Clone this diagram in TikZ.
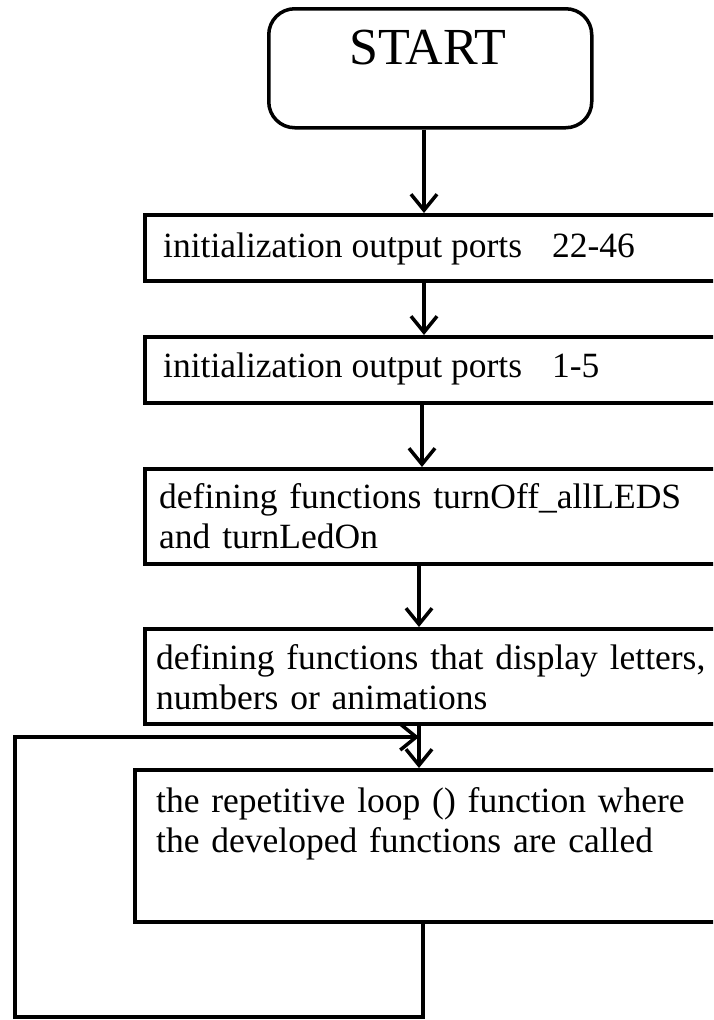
\documentclass[tikz,border=0pt]{standalone}
\usepackage{fontspec}
\setmainfont{Liberation Serif}
\usetikzlibrary{arrows.meta}
\begin{document}
\begin{tikzpicture}[x=1pt,y=-1pt,
  box/.style={draw, line width=3.5pt, rectangle, inner sep=0pt, anchor=north west, minimum width=640pt},
  lbl/.style={anchor=base west, inner sep=0pt, font=\fontsize{35.5}{40}\selectfont, align=left},
  arr/.style={line width=3.5pt, -{Straight Barb[length=16pt,width=26pt]}},
  loopline/.style={line width=3.5pt, line join=miter},
]
\useasboundingbox (0,0) rectangle (713,1020);
\clip (0,0) rectangle (713,1020);
% start
\node[draw, line width=3.5pt, rounded corners=26pt, inner sep=0pt, minimum width=323pt, minimum height=119pt, anchor=north west] (start) at (267,7) {};
\node[anchor=base, inner sep=0pt, font=\fontsize{52}{56}\selectfont] (starttxt) at (428,64) {START};
% boxes
\node[box, minimum height=66pt] (b1) at (143,213) {};
\node[box, minimum height=66pt] (b2) at (143,335) {};
\node[box, minimum height=95pt] (b3) at (143,467) {};
\node[box, minimum height=95pt] (b4) at (143,627) {};
\node[box, minimum height=152pt] (b5) at (133,768) {};
% labels
\node[lbl] (t1) at (163,257) {initialization output ports\hspace*{30pt}22-46};
\node[lbl] (t2) at (163,377) {initialization output ports\hspace*{30pt}1-5};
\node[lbl, text width=560pt] (t3) at (159,508) {defining functions turnOff\_allLEDS\\and turnLedOn};
\node[lbl, text width=560pt] (t4) at (156,669) {defining functions that display letters,\\numbers or animations};
\node[lbl, text width=560pt] (t5) at (156,812) {the repetitive loop () function where\\the developed functions are called};
% arrow columns
\coordinate (c1) at (424,0);
\coordinate (c2) at (424,0);
\coordinate (c3) at (422,0);
\coordinate (c4) at (419,0);
\coordinate (lb) at (423,1017);
\coordinate (ll) at (15,1017);
\coordinate (lt) at (15,737);
\coordinate (lj) at (419,737);
\draw[arr] (start.south -| c1) -- (b1.north -| c1);
\draw[arr] (b1.south -| c2) -- (b2.north -| c2);
\draw[arr] (b2.south -| c3) -- (b3.north -| c3);
\draw[arr] (b3.south -| c4) -- (b4.north -| c4);
\draw[arr] (b4.south -| lj) -- (b5.north -| lj);
\draw[loopline, arr] (b5.south -| lb) -- (lb) -- (ll) -- (lt) -- (lj);
\end{tikzpicture}
\end{document}
